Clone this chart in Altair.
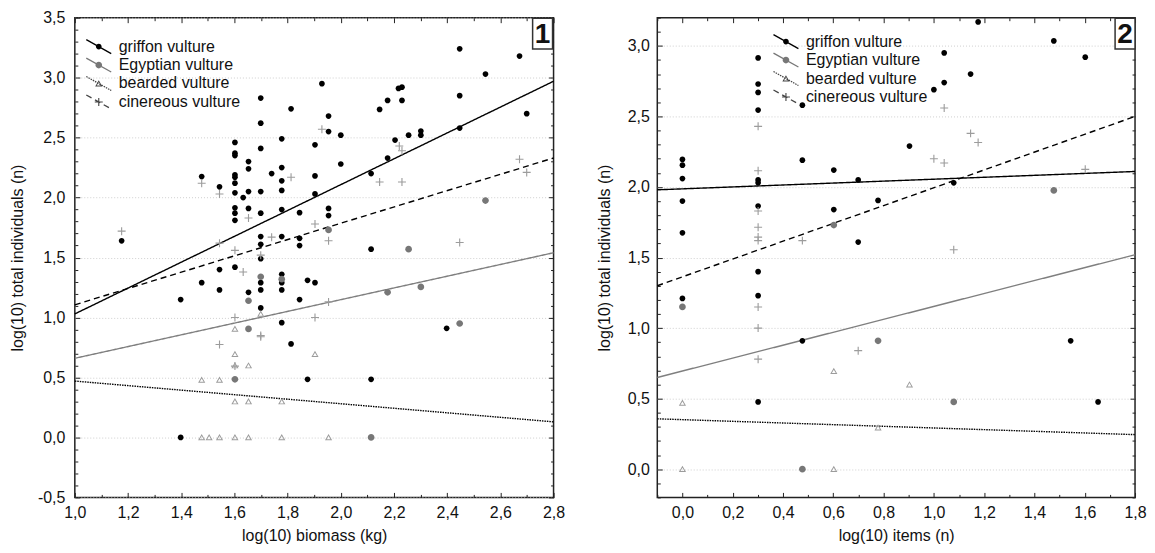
import math
import altair as alt
import pandas as pd

FONT = "Liberation Sans"
SPECIES = ["griffon vulture", "Egyptian vulture", "bearded vulture", "cinereous vulture"]

# ---------------- Panel 1: log(10) biomass (kg) ----------------
p1_griffon_x = [1.176, 1.398, 1.398, 1.477, 1.477, 1.544, 1.544, 1.544,
                1.602, 1.602, 1.602, 1.602, 1.602, 1.602, 1.602, 1.602, 1.602, 1.602, 1.602,
                1.633, 1.653, 1.653, 1.653, 1.653, 1.653,
                1.699, 1.699, 1.699, 1.699, 1.699, 1.699, 1.699, 1.699, 1.699, 1.699, 1.699,
                1.740, 1.778, 1.778, 1.778, 1.778, 1.778, 1.778, 1.778, 1.778, 1.778, 1.778,
                1.813, 1.813, 1.845, 1.845, 1.845, 1.845, 1.875, 1.875,
                1.903, 1.903, 1.903, 1.903, 1.929, 1.954, 1.954, 1.954, 1.954, 2.0, 2.0,
                2.114, 2.114, 2.114, 2.146, 2.176, 2.176, 2.204, 2.217, 2.230, 2.230, 2.255,
                2.301, 2.301, 2.398, 2.447, 2.447, 2.447, 2.544, 2.672, 2.699]
p1_griffon_y = [1.64, 1.15, 0.0, 2.175, 1.29, 2.09, 1.40, 1.23,
                2.46, 2.37, 2.35, 2.19, 2.17, 2.12, 2.04, 1.915, 1.87, 1.81, 1.42,
                2.0, 2.30, 2.24, 2.05, 1.91, 1.21,
                2.83, 2.62, 2.41, 2.05, 1.87, 1.675, 1.61, 1.49, 1.29, 1.23, 1.08,
                2.20, 2.49, 2.25, 2.14, 2.06, 1.90, 1.675, 1.36, 1.29, 1.23, 0.957,
                2.74, 0.78, 1.874, 1.66, 1.60, 1.15, 1.31, 0.485,
                2.44, 2.18, 2.03, 1.29, 2.95, 2.68, 2.55, 1.91, 1.85, 2.52, 2.28,
                2.20, 1.57, 0.485, 2.735, 2.81, 2.33, 2.48, 2.91, 2.92, 2.81, 2.52,
                2.555, 2.52, 0.91, 3.24, 2.85, 2.58, 3.03, 3.18, 2.70]
p1_egypt_x = [1.602, 1.653, 1.653, 1.699, 1.778, 1.954, 2.114, 2.176, 2.255, 2.301, 2.447, 2.544]
p1_egypt_y = [0.485, 1.14, 0.905, 1.34, 1.32, 1.73, 0.0, 1.21, 1.57, 1.255, 0.95, 1.975]
p1_bearded_x = [1.477, 1.544, 1.602, 1.602, 1.602, 1.653, 1.699, 1.903, 1.602, 1.653, 1.778,
                1.477, 1.505, 1.544, 1.602, 1.653, 1.778, 1.954]
p1_bearded_y = [0.48, 0.48, 0.905, 0.695, 0.60, 0.60, 1.03, 0.695, 0.30, 0.30, 0.30,
                0.0, 0.0, 0.0, 0.0, 0.0, 0.0, 0.0]
p1_cinereous_x = [1.176, 1.477, 1.544, 1.544, 1.602, 1.633, 1.653, 1.699, 1.740, 1.813, 1.903,
                  1.954, 1.954, 1.602, 1.903, 1.699, 1.699, 1.544, 1.602, 1.929, 2.146, 2.230,
                  2.220, 2.230, 2.672, 2.699, 2.447]
p1_cinereous_y = [1.72, 2.12, 2.03, 1.62, 1.56, 1.38, 1.83, 1.52, 1.67, 2.17, 1.78,
                  1.64, 1.13, 1.00, 1.00, 0.84, 0.85, 0.775, 0.595, 2.57, 2.13, 2.13,
                  2.43, 2.39, 2.32, 2.21, 1.625]
p1_fit_x = [1.0, 2.8]
p1_fit_griffon = [1.03, 2.97]
p1_fit_egypt = [0.66, 1.54]
p1_fit_bearded = [0.47, 0.13]
p1_fit_cinereous = [1.106, 2.33]

# ---------------- Panel 2: log(10) items (n) ----------------
p2_griffon_x = [0.0, 0.0, 0.0, 0.0, 0.0, 0.0,
                0.301, 0.301, 0.301, 0.301, 0.301, 0.301, 0.301, 0.301, 0.301, 0.301,
                0.477, 0.477, 0.477, 0.602, 0.602, 0.699, 0.699, 0.778, 0.903, 1.0,
                1.041, 1.041, 1.079, 1.146, 1.176, 1.477, 1.544, 1.602, 1.653]
p2_griffon_y = [2.195, 2.155, 2.06, 1.90, 1.675, 1.21,
                2.915, 2.73, 2.67, 2.545, 2.05, 2.03, 1.865, 1.40, 1.23, 0.477,
                2.58, 2.19, 0.91, 2.12, 1.84, 2.05, 1.61, 1.905, 2.29, 2.69,
                2.95, 2.74, 2.03, 2.80, 3.17, 3.035, 0.91, 2.92, 0.477]
p2_egypt_x = [0.0, 0.477, 0.602, 0.778, 1.079, 1.477]
p2_egypt_y = [1.15, 0.0, 1.73, 0.91, 0.477, 1.976]
p2_bearded_x = [0.0, 0.0, 0.602, 0.602, 0.778, 0.903]
p2_bearded_y = [0.47, 0.0, 0.695, 0.0, 0.295, 0.60]
p2_cinereous_x = [0.301, 0.301, 0.301, 0.301, 0.301, 0.301, 0.301, 0.301, 0.301,
                  0.477, 0.699, 1.0, 1.041, 1.041, 1.146, 1.176, 1.079, 1.602]
p2_cinereous_y = [2.43, 2.115, 1.83, 1.715, 1.645, 1.62, 1.15, 1.00, 0.78,
                  1.62, 0.84, 2.20, 2.56, 2.17, 2.38, 2.315, 1.555, 2.125]
p2_fit_x = [-0.1, 1.8]
p2_fit_griffon = [1.98, 2.11]
p2_fit_egypt = [0.65, 1.52]
p2_fit_bearded = [0.357, 0.245]
p2_fit_cinereous = [1.30, 2.50]

# ---------------- axis tick lists ----------------
p1_xlabels = [1.0, 1.2, 1.4, 1.6, 1.8, 2.0, 2.2, 2.4, 2.6, 2.8]
p1_ylabels = [-0.5, 0.0, 0.5, 1.0, 1.5, 2.0, 2.5, 3.0, 3.5]
p1_xticks = [round(1.0 + 0.1 * i, 1) for i in range(19)]
p1_yticks = [round(-0.5 + 0.1 * i, 1) for i in range(41)]
p2_xlabels = [0.0, 0.2, 0.4, 0.6, 0.8, 1.0, 1.2, 1.4, 1.6, 1.8]
p2_ylabels = [0.0, 0.5, 1.0, 1.5, 2.0, 2.5, 3.0]
p2_xticks = [round(-0.1 + 0.1 * i, 1) for i in range(20)]
p2_yticks = [round(-0.2 + 0.1 * i, 1) for i in range(35)]

# ---------------- marker styles (symbol size 256 -> 8 px per path unit) ----------------
CIRCLE_S = "M0.36,0A0.36,0.36,0,1,1,-0.36,0A0.36,0.36,0,1,1,0.36,0Z"
CIRCLE_L = "M0.42,0A0.42,0.42,0,1,1,-0.42,0A0.42,0.42,0,1,1,0.42,0Z"
TRI = "M0,-0.42L0.45,0.36L-0.45,0.36Z M0,-0.18L-0.243,0.24L0.243,0.24Z"
PLUS = "M-0.5,-0.07H-0.07V-0.5H0.07V-0.07H0.5V0.07H0.07V0.5H-0.07V0.07H-0.5Z"
BOX = "M-0.645,-1H0.645V1H-0.645Z"
POINT_COLORS = ["#000000", "#777777", "#9c9c9c", "#9c9c9c"]
LINE_COLORS = ["#000000", "#7f7f7f", "#000000", "#000000"]
DASHES = [[1, 0], [1, 0], [1.5, 1], [6, 4]]
LEGEND_COLORS = ["#000000", "#777777", "#444444", "#444444"]
LAB = "replace(replace(format(datum.value, '.1f'), '.', ','), '\u2212', '-')"


def legend_line(on, off):
    """Diagonal legend stroke (25 x 14 px) built as filled clockwise segments."""
    ax, ay, bx, by = -12.5, -7.0, 12.5, 7.0
    length = math.hypot(bx - ax, by - ay)
    dx, dy = (bx - ax) / length, (by - ay) / length
    nx, ny = -dy * 0.65, dx * 0.65
    parts = []
    t = 0.0
    while t < length:
        t1 = min(t + on, length)
        p0 = (ax + dx * t, ay + dy * t)
        p1 = (ax + dx * t1, ay + dy * t1)
        pts = [(p0[0] - nx, p0[1] - ny), (p1[0] - nx, p1[1] - ny),
               (p1[0] + nx, p1[1] + ny), (p0[0] + nx, p0[1] + ny)]
        parts.append("M" + "L".join(f"{x / 8:.4f},{y / 8:.4f}" for x, y in pts) + "Z")
        t += on + off
    return " ".join(parts)


LEGEND_SHAPES = [
    legend_line(100, 0) + " " + CIRCLE_S,
    legend_line(100, 0) + " " + CIRCLE_L,
    legend_line(1.5, 1.0) + " " + TRI,
    legend_line(6, 4) + " " + PLUS,
]


def points_df(gx, gy, ex, ey, bx, by, cx, cy):
    rows = []
    for sp, xs, ys in zip(SPECIES, [gx, ex, bx, cx], [gy, ey, by, cy]):
        for a, b in zip(xs, ys):
            rows.append({"x": a, "y": b, "species": sp})
    return pd.DataFrame(rows)


def fits_df(fx, fits):
    rows = []
    for sp, ys in zip(SPECIES, fits):
        for a, b in zip(fx, ys):
            rows.append({"x": a, "y": b, "species": sp})
    return pd.DataFrame(rows)


def tick_axis(orient, values, test):
    return alt.Axis(orient=orient, values=values, labels=False, domain=False, grid=False,
                    ticks=True, tickSize=5, offset=-5, tickColor="#222", tickWidth=1,
                    minExtent=0, maxExtent=5,
                    tickDash={"condition": {"test": test, "value": []}, "value": [0, 2, 3, 10]},
                    title=None)


def panel(pts, fits, xdom, ydom, xlab, ylab, xt, yt, xtitle, leg_x, leg_y, tag,
          ylab_pad, ytitle_pad, tag_dx, width):
    xs = alt.Scale(domain=xdom, nice=False, zero=False)
    ys = alt.Scale(domain=ydom, nice=False, zero=False)
    xtest = "round(datum.value*10) % 2 === 0"
    ytest = "round(datum.value*10) % 5 === 0"
    x_main = alt.Axis(orient="bottom", values=xlab, labelExpr=LAB, ticks=False, domain=False,
                      grid=False, labelPadding=7, labelFlush=False, labelOverlap=False,
                      labelFont=FONT, labelFontSize=16, labelColor="#111", minExtent=0,
                      title=xtitle, titleFont=FONT, titleFontSize=16, titleFontWeight="normal",
                      titleColor="#111", titlePadding=7)
    y_main = alt.Axis(orient="left", values=ylab, labelExpr=LAB, ticks=False, domain=False,
                      grid=True, gridColor="#cfcfcf", gridDash=[1, 2], gridWidth=1,
                      labelPadding=ylab_pad, labelOverlap=False, labelFlush=False, minExtent=0,
                      labelFont=FONT, labelFontSize=16, labelColor="#111",
                      title="log(10) total individuals (n)", titleFont=FONT, titleFontSize=16,
                      titleFontWeight="normal", titleColor="#111", titlePadding=ytitle_pad)
    leg = alt.Legend(orient="none", legendX=leg_x, legendY=leg_y, title=None, symbolSize=256,
                     symbolStrokeWidth=0, symbolStrokeColor="transparent", symbolOpacity=1,
                     rowPadding=2.5, labelOffset=12, labelFont=FONT, labelFontSize=16,
                     labelColor="#111", padding=0, offset=0, labelLimit=400)

    lines = alt.Chart(fits).mark_line(strokeWidth=1.4).encode(
        x=alt.X("x:Q", scale=xs, axis=x_main),
        y=alt.Y("y:Q", scale=ys, axis=y_main),
        color=alt.Color("species:N", scale=alt.Scale(domain=SPECIES, range=LINE_COLORS),
                        legend=None),
        strokeDash=alt.StrokeDash("species:N", scale=alt.Scale(domain=SPECIES, range=DASHES),
                                  legend=None),
    )
    points = alt.Chart(pts).mark_point(filled=True, size=256, strokeWidth=0, opacity=1).encode(
        x=alt.X("x:Q", scale=xs, axis=tick_axis("bottom", xt, xtest)),
        y=alt.Y("y:Q", scale=ys, axis=tick_axis("left", yt, ytest)),
        color=alt.Color("species:N", scale=alt.Scale(domain=SPECIES, range=POINT_COLORS),
                        legend=None),
        shape=alt.Shape("species:N",
                        scale=alt.Scale(domain=SPECIES, range=[CIRCLE_S, CIRCLE_L, TRI, PLUS]),
                        legend=None),
    )
    tag_df = pd.DataFrame({"x": [xdom[1]], "y": [ydom[1]], "t": [tag]})
    box = alt.Chart(tag_df).mark_point(shape=BOX, size=961, filled=True, fill="white",
                                       stroke="#333", strokeWidth=1.5, opacity=1,
                                       xOffset=tag_dx, yOffset=16).encode(
        x=alt.X("x:Q", scale=xs, axis=tick_axis("top", xt, xtest)),
        y=alt.Y("y:Q", scale=ys, axis=tick_axis("right", yt, ytest)),
    )
    txt = alt.Chart(tag_df).mark_text(font=FONT, fontSize=28, fontWeight="bold", color="#111",
                                      xOffset=tag_dx, yOffset=17, align="center",
                                      baseline="middle").encode(
        x=alt.X("x:Q", scale=xs, axis=None),
        y=alt.Y("y:Q", scale=ys, axis=None),
        text="t:N",
    )
    leg_df = pd.DataFrame({"species": SPECIES, "x": [xdom[0]] * 4, "y": [ydom[0]] * 4})
    legend_layer = alt.Chart(leg_df).mark_point(filled=True, size=256, opacity=0).encode(
        x=alt.X("x:Q", scale=xs, axis=None),
        y=alt.Y("y:Q", scale=ys, axis=None),
        color=alt.Color("species:N", scale=alt.Scale(domain=SPECIES, range=LEGEND_COLORS),
                        legend=leg),
        shape=alt.Shape("species:N", scale=alt.Scale(domain=SPECIES, range=LEGEND_SHAPES),
                        legend=leg),
    )
    return alt.layer(lines, points, box, txt, legend_layer).resolve_scale(
        color="independent", shape="independent", strokeDash="independent"
    ).resolve_axis(x="independent", y="independent").properties(width=width, height=481)


left = panel(
    points_df(p1_griffon_x, p1_griffon_y, p1_egypt_x, p1_egypt_y,
              p1_bearded_x, p1_bearded_y, p1_cinereous_x, p1_cinereous_y),
    fits_df(p1_fit_x, [p1_fit_griffon, p1_fit_egypt, p1_fit_bearded, p1_fit_cinereous]),
    [1.0, 2.8], [-0.5, 3.5], p1_xlabels, p1_ylabels, p1_xticks, p1_yticks,
    "log(10) biomass (kg)", 16, 21, "1", 10, 12, -11, 480,
)
right = panel(
    points_df(p2_griffon_x, p2_griffon_y, p2_egypt_x, p2_egypt_y,
              p2_bearded_x, p2_bearded_y, p2_cinereous_x, p2_cinereous_y),
    fits_df(p2_fit_x, [p2_fit_griffon, p2_fit_egypt, p2_fit_bearded, p2_fit_cinereous]),
    [-0.1, 1.8], [-0.2, 3.2], p2_xlabels, p2_ylabels, p2_xticks, p2_yticks,
    "log(10) items (n)", 121, 16, "2", 8, 15, -10, 479,
)

chart = alt.hconcat(left, right, spacing=30).properties(
    padding={"left": 0, "top": 0, "right": 0, "bottom": 0},
    background="white",
).configure_view(stroke="#222", strokeWidth=1.5)

chart.save("out.html", embed_options={"renderer": "svg", "actions": False})
